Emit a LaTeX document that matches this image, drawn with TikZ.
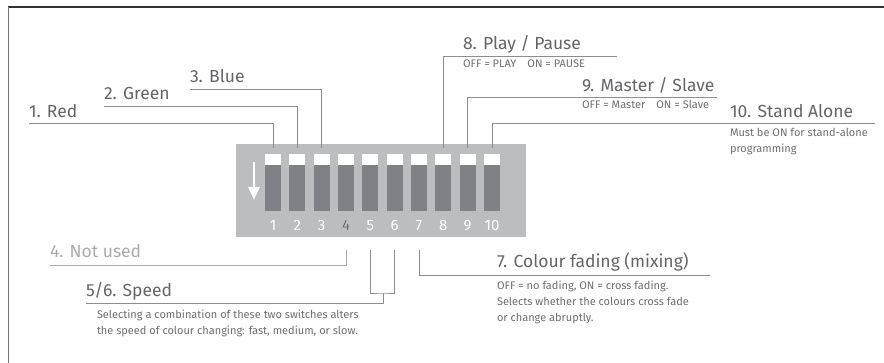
\documentclass[tikz,border=0pt]{standalone}
\usepackage{fontspec}
\setmainfont{Fira Sans}
\usetikzlibrary{arrows.meta}
\definecolor{frameColor}{RGB}{51,51,51}
\definecolor{edgeColor}{RGB}{120,120,120}
\definecolor{textColor}{RGB}{100,101,104}
\definecolor{noteColor}{RGB}{110,111,114}
\definecolor{faintColor}{RGB}{170,171,173}
\definecolor{leadColor}{RGB}{140,141,144}
\definecolor{bodyColor}{RGB}{188,189,191}
\definecolor{leverColor}{RGB}{128,129,132}
\begin{document}
\begin{tikzpicture}[x=1pt,y=1pt,
  head/.style={text=textColor,anchor=base west,inner sep=0pt,outer sep=0pt,font=\fontsize{17.5}{18}\selectfont},
  note/.style={text=noteColor,anchor=base west,inner sep=0pt,outer sep=0pt,align=left,font=\fontsize{11}{16}\selectfont},
  lead/.style={draw=leadColor,line width=0.9pt},
  lever/.style={fill=leverColor,inner sep=0pt,outer sep=0pt,minimum width=16pt,minimum height=46pt,anchor=south west},
  digit/.style={text=white,anchor=base,inner sep=0pt,outer sep=0pt,font=\fontsize{15}{15}\selectfont}]
\path[use as bounding box,fill=white] (0,0) rectangle (884,363);

% frame
\path[draw=frameColor,line width=1.2pt] (8,356) -- (884,356);
\path[draw=edgeColor,line width=0.9pt] (8,356) -- (8,0);

% switch body
\path[fill=bodyColor] (236,126) rectangle (526,219);
\foreach \k in {1,...,10} {
  \node[lever] (sw\k) at ({265+(\k-1)*24.33},152) {};
  \path[fill=white] (sw\k.north west) rectangle ([yshift=11pt]sw\k.north east);
  \node[digit] (num\k) at ([yshift=-20pt]sw\k.south) {\k};
}
\node[digit,text=textColor] at (num4.base) {4};
\draw[white,line width=2.4pt,-{Triangle[width=11pt,length=13pt]}] (254,201) -- (254,163);

% top labels
\node[head] (red) at (29,245) {1. Red};
\coordinate (u1) at (29,240);
\path[lead] (u1) -| ([yshift=17pt]sw1.north);

\node[head] (green) at (104,263) {2. Green};
\coordinate (u2) at (104,257);
\path[lead] (u2) -| ([yshift=17pt]sw2.north);

\node[head] (blue) at (190,280) {3. Blue};
\coordinate (u3) at (190,274);
\path[lead] (u3) -| ([yshift=17pt]sw3.north);

\node[head] (play) at (463,313) {8. Play / Pause};
\node[note] (playnote) at (463,295) {OFF = PLAY\quad ON = PAUSE};
\coordinate (u8) at (617,307);
\path[lead] (u8) -| ([yshift=17pt]sw8.north);

\node[head] (master) at (582,271) {9. Master / Slave};
\node[note] (masternote) at (582,254) {OFF = Master\quad ON = Slave};
\coordinate (u9) at (717,266);
\path[lead] (u9) -| ([yshift=17pt]sw9.north);

\node[head] (alone) at (730,245) {10. Stand Alone};
\node[note] (alonenote) at (730,210) {Must be ON for stand-alone\\programming};
\coordinate (u10) at (875,240);
\path[lead] (u10) -| ([yshift=17pt]sw10.north);

% bottom labels
\node[head,text=faintColor] (unused) at (50,105) {4. Not used};
\coordinate (u4) at (50,98);
\path[lead,draw=faintColor] (u4) -| ([yshift=-39pt]sw4.south);

\node[head] (speed) at (86,66) {5/6. Speed};
\node[note] (speednote) at (97,28) {Selecting a combination of these two switches alters\\the speed of colour changing: fast, medium, or slow.};
\coordinate (u56) at (86,60);
\coordinate (j56) at (383,70);
\path[lead] ([yshift=-39pt]sw5.south) |- (j56) -| ([yshift=-39pt]sw6.south);
\path[lead] (u56) -| (j56);

\node[head] (fade) at (497,95) {7. Colour fading (mixing)};
\node[note] (fadenote) at (497,41) {OFF = no fading, ON = cross fading.\\Selects whether the colours cross fade\\or change abruptly.};
\coordinate (u7) at (710,88);
\path[lead] (u7) -| ([yshift=-39pt]sw7.south);
\end{tikzpicture}
\end{document}
